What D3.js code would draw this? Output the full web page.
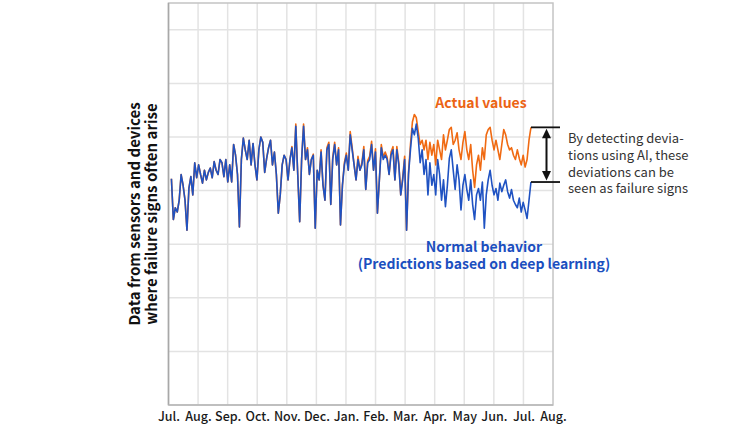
<!DOCTYPE html>
<html>
<head>
<meta charset="utf-8">
<script src="https://cdn.jsdelivr.net/npm/d3@7"></script>
<style>
  html, body { margin: 0; padding: 0; background: #fff; }
  svg { display: block; font-family: "Noto Sans CJK JP", "Noto Sans", sans-serif; }
</style>
</head>
<body>
<svg id="chart" width="730" height="427"></svg>
<script>
// ---- data ----
const monthLabels = ["Jul.","Aug.","Sep.","Oct.","Nov.","Dec.","Jan.","Feb.","Mar.","Apr.","May","Jun.","Jul.","Aug."];
const yTicks = [0, 50, 100, 150, 200, 250, 300, 350];
const firstDay = 3;      // days after Jul. 1
const dayStep = 2;       // sampling interval (days)

// Normal behavior (predictions based on deep learning)
const normal = [
  211,173,184,180,191,215,205,191,163,202,213,196,226,212,224,           // Jul
  215,207,219,210,217,221,212,227,219,215,229,226,213,229,208,           // Aug
  224,208,243,233,215,166,229,249,238,229,247,224,244,224,210,           // Sep
  238,250,245,217,230,240,247,224,236,215,179,196,224,233,229,210,       // Oct
  229,240,219,260,215,171,229,260,229,238,215,229,233,165,219,           // Nov
  210,236,205,191,238,243,187,229,243,224,238,168,205,224,233,           // Dec
  219,252,238,224,210,229,219,224,238,201,226,229,243,219,236,179,       // Jan
  210,240,229,233,229,215,233,238,210,238,224,196,210,229,               // Feb
  163,215,238,258,252,262,249,226,238,215,229,196,226,205,215,           // Mar
  196,229,215,191,210,185,205,230,238,219,201,224,210,182,205,           // Apr
  215,201,191,210,187,173,196,202,191,208,165,196,210,219,205,196,       // May
  202,191,207,199,205,210,199,193,201,191,187,184,193,180,189,           // Jun
  182,174,191,208                                                        // Jul
];

// Actual values
const actual = [
  211,173,184,180,191,215,205,191,163,202,213,196,226,212,224,
  215,207,219,210,217,221,212,227,219,215,229,226,213,229,208,
  224,208,243,233,215,166,229,249,238,229,247,224,244,224,210,
  238,250,245,217,230,240,247,224,236,215,179,196,224,233,229,210,
  229,241,219,262,215,171,229,262,229,240,215,229,234,165,219,
  210,238,205,191,240,245,187,231,245,224,240,168,205,226,235,
  219,255,240,224,210,232,219,226,241,201,228,232,246,219,239,179,
  210,243,231,236,231,215,236,241,210,241,226,196,212,232,
  163,217,243,264,271,268,255,243,247,238,247,229,245,233,243,
  224,247,238,229,252,238,247,257,259,243,247,254,238,229,245,
  255,238,229,243,219,203,224,233,219,240,229,252,257,259,247,238,
  247,238,229,243,257,252,243,238,240,233,229,238,230,224,233,
  222,229,247,259
];

const noteLines = ["By detecting devia-", "tions using AI, these", "deviations can be", "seen as failure signs"];
const yTitle = ["Data from sensors and devices", "where failure signs often arise"];

// ---- drawing ----
const svg = d3.select("#chart");
const plot = { left: 168.5, right: 553, top: 3, bottom: 405 };

const x = d3.scaleLinear().domain([0, monthLabels.length - 1]).range([plot.left, plot.right]);
const y = d3.scaleLinear().domain([0, 375]).range([plot.bottom, plot.top]);
const dayToMonth = d => d * 12 / 365.25;

// grid
const grid = svg.append("g");
grid.selectAll("line.v").data(d3.range(1, monthLabels.length - 1)).join("line")
  .attr("x1", d => x(d)).attr("x2", d => x(d))
  .attr("y1", plot.top).attr("y2", plot.bottom)
  .attr("stroke", "#e3e3e3").attr("stroke-width", 1.5);
grid.selectAll("line.h").data(yTicks.filter(t => t > 0)).join("line")
  .attr("x1", plot.left).attr("x2", plot.right)
  .attr("y1", d => y(d)).attr("y2", d => y(d))
  .attr("stroke", "#e3e3e3").attr("stroke-width", 1.5);

// frame
svg.append("rect")
  .attr("x", plot.left).attr("y", plot.top)
  .attr("width", plot.right - plot.left).attr("height", plot.bottom - plot.top)
  .attr("fill", "none").attr("stroke", "#c4c4c4").attr("stroke-width", 1.5);
svg.append("line").attr("x1", plot.left).attr("x2", plot.left)
  .attr("y1", plot.top).attr("y2", plot.bottom).attr("stroke", "#a8a8a8").attr("stroke-width", 1.5);
svg.append("line").attr("x1", plot.left).attr("x2", plot.right)
  .attr("y1", plot.bottom).attr("y2", plot.bottom).attr("stroke", "#b8b8b8").attr("stroke-width", 1.5);

// x axis labels
const xAxis = d3.axisBottom(x).tickValues(d3.range(monthLabels.length))
  .tickFormat(i => monthLabels[i]).tickSize(0).tickPadding(7);
const gx = svg.append("g").attr("transform", `translate(0,${plot.bottom})`).call(xAxis);
gx.select(".domain").remove();
gx.selectAll("text").attr("font-size", 12.5).attr("font-weight", 500)
  .attr("fill", "#1a1a1a").attr("font-family", '"Noto Sans CJK JP", "Noto Sans", sans-serif');

// lines
const line = d3.line()
  .x((d, i) => x(dayToMonth(firstDay + i * dayStep)))
  .y(d => y(d));
svg.append("path").datum(actual).attr("d", line)
  .attr("fill", "none").attr("stroke", "#f06a12").attr("stroke-width", 1.6).attr("stroke-linejoin", "round");
svg.append("path").datum(normal).attr("d", line)
  .attr("fill", "none").attr("stroke", "#1f52c2").attr("stroke-width", 1.6).attr("stroke-linejoin", "round");

// annotation: deviation bracket
const endX = x(dayToMonth(firstDay + (normal.length - 1) * dayStep));
const yTop = y(actual[actual.length - 1]);
const yBot = y(normal[normal.length - 1]);
const ann = svg.append("g");
[yTop, yBot].forEach(yy => ann.append("line")
  .attr("x1", endX).attr("x2", 560).attr("y1", yy).attr("y2", yy)
  .attr("stroke", "#111").attr("stroke-width", 1.8));
const ax = 546.5;
ann.append("line").attr("x1", ax).attr("x2", ax).attr("y1", yTop + 8).attr("y2", yBot - 8)
  .attr("stroke", "#111").attr("stroke-width", 2);
ann.append("path").attr("d", `M${ax},${yTop + 1.5} L${ax - 4.5},${yTop + 11} L${ax + 4.5},${yTop + 11} Z`).attr("fill", "#111");
ann.append("path").attr("d", `M${ax},${yBot - 1.5} L${ax - 4.5},${yBot - 11} L${ax + 4.5},${yBot - 11} Z`).attr("fill", "#111");

svg.append("g").selectAll("text").data(noteLines).join("text")
  .attr("x", 568).attr("y", (d, i) => 143 + i * 16.8)
  .attr("font-size", 13).attr("fill", "#333").text(d => d);

// series labels
svg.append("text").attr("x", 481).attr("y", 108).attr("text-anchor", "middle")
  .attr("font-size", 14).attr("font-weight", 700).attr("fill", "#ec6414").text("Actual values");
svg.append("text").attr("x", 484).attr("y", 252).attr("text-anchor", "middle")
  .attr("font-size", 14).attr("font-weight", 700).attr("fill", "#1b4fbf").text("Normal behavior");
svg.append("text").attr("x", 484).attr("y", 269).attr("text-anchor", "middle")
  .attr("font-size", 14).attr("font-weight", 700).attr("fill", "#1b4fbf").text("(Predictions based on deep learning)");

// y title
svg.append("g").selectAll("text").data(yTitle).join("text")
  .attr("transform", (d, i) => `translate(${140 + i * 17},214) rotate(-90)`)
  .attr("text-anchor", "middle").attr("font-size", 15).attr("font-weight", 700)
  .attr("fill", "#111").text(d => d);
</script>
</body>
</html>
